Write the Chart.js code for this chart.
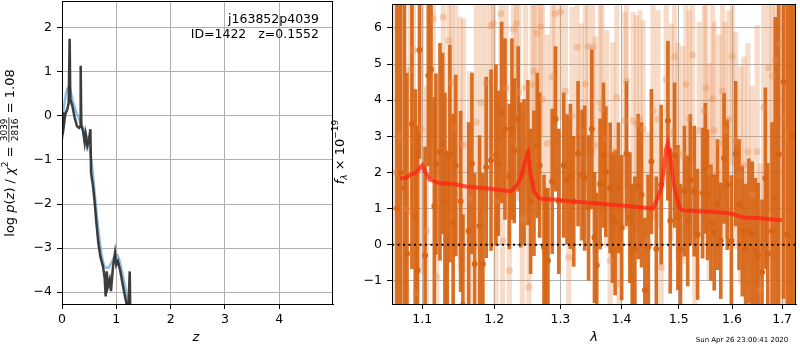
<!DOCTYPE html>
<html><head><meta charset="utf-8">
<script src="https://cdn.jsdelivr.net/npm/chart.js@4.4.1/dist/chart.umd.min.js"></script>
<style>
body{margin:0;background:#fff;width:800px;height:350px;position:relative;overflow:hidden}
#pz{position:absolute;left:0;top:0}
#sp{position:absolute;left:330px;top:0}
</style></head><body>
<canvas id="pz" width="336" height="350"></canvas>
<canvas id="sp" width="470" height="350"></canvas>
<script>
// --- p(z) panel
const zTicks = [0, 1, 2, 3, 4];
const pzTicks = [-4, -3, -2, -1, 0, 1, 2];
const zDark = [0.00, 0.019, 0.037, 0.061, 0.098, 0.123, 0.141, 0.153, 0.19, 0.234, 0.276, 0.313, 0.338, 0.344, 0.356, 0.387, 0.418, 0.436, 0.467, 0.498, 0.523, 0.535, 0.571, 0.602, 0.633, 0.669, 0.706, 0.755, 0.786, 0.804, 0.823, 0.847, 0.878, 0.902, 0.939, 0.976, 1.00, 1.03, 1.075, 1.124, 1.185, 1.222, 1.247, 1.259];
const pDark = [-0.53, 0.08, -0.19, 0.04, 0.15, 0.30, 1.75, 0.38, 0.23, -0.04, -0.23, -0.27, -0.23, 1.14, -0.23, -0.34, -0.61, -0.42, -0.68, -0.53, -0.30, -1.29, -1.59, -1.97, -2.43, -2.88, -3.19, -3.42, -3.68, -4.10, -3.53, -3.87, -3.72, -3.98, -3.42, -3.11, -3.38, -3.30, -3.53, -3.87, -4.25, -4.40, -3.53, -4.56];
const zBlue = [0.006, 0.031, 0.067, 0.104, 0.141, 0.178, 0.234, 0.326, 0.418, 0.479, 0.541, 0.602, 0.663, 0.725, 0.786, 0.847, 0.908, 0.970, 1.013, 1.062, 1.124, 1.185, 1.247];
const pBlue = [-0.35, 0.15, 0.45, 0.64, 0.64, 0.45, 0.19, -0.11, -0.34, -0.57, -0.99, -1.75, -2.51, -3.11, -3.42, -3.45, -3.34, -3.19, -3.15, -3.30, -3.64, -4.02, -4.44];

// --- spectrum panel
const lamTicks = [1.1, 1.2, 1.3, 1.4, 1.5, 1.6, 1.7];
const fluxTicks = [-1, 0, 1, 2, 3, 4, 5, 6];
const lamD = [1.0667, 1.0710, 1.0763, 1.0798, 1.0863, 1.0907, 1.0937, 1.0963, 1.1037, 1.1080, 1.1116, 1.1161, 1.1183, 1.1238, 1.1274, 1.1305, 1.1337, 1.1373, 1.1418, 1.1454, 1.1522, 1.1554, 1.1634, 1.1681, 1.1719, 1.1789, 1.1836, 1.1884, 1.1954, 1.2025, 1.2059, 1.2108, 1.2157, 1.2221, 1.2260, 1.2294, 1.2353, 1.2392, 1.2441, 1.2499, 1.2540, 1.2591, 1.2642, 1.2678, 1.2745, 1.2770, 1.2806, 1.2872, 1.2924, 1.2975, 1.3053, 1.3106, 1.3159, 1.3212, 1.3281, 1.3345, 1.3388, 1.3451, 1.3504, 1.3547, 1.3585, 1.3640, 1.3696, 1.3735, 1.3807, 1.3846, 1.3890, 1.3946, 1.4001, 1.4083, 1.4140, 1.4180, 1.4226, 1.4284, 1.4341, 1.4399, 1.4456, 1.4514, 1.4600, 1.4686, 1.4806, 1.4848, 1.4926, 1.4986, 1.5034, 1.5105, 1.5165, 1.5213, 1.5285, 1.5347, 1.5441, 1.5491, 1.5534, 1.5597, 1.5659, 1.5722, 1.5784, 1.5847, 1.5909, 1.5987, 1.6071, 1.6136, 1.6201, 1.6266, 1.6331, 1.6396, 1.6461, 1.6513, 1.6592, 1.6659, 1.6707, 1.6794, 1.6861, 1.6929, 1.7030, 1.7111, 1.7180, 1.7230];
const fluxD = [1.0, 2.0, 1.57, -0.25, 3.34, 0.79, -0.71, 5.39, -0.3, 4.68, 4.84, 1.07, 2.23, 2.57, 2.8, 1.2, 0.1, 2.52, 0.61, 2.19, 1.2, -1.67, 0.38, 2.25, -0.53, 0.52, -0.53, 2.14, 2.34, 2.48, 2.25, 3.66, 3.2, 1.89, 3.2, 2.6, 3.48, 1.93, 2.02, 2.55, 1.2, 1.7, 2.75, 2.2, -0.07, -0.25, -0.44, 1.75, 3.48, 1.2, 2.2, 1.8, 1.89, 1.2, 2.52, 1.93, 1.84, 1.02, 3.2, 0.2, -0.57, 1.68, 2.48, 2.02, 1.57, 0.75, 0.61, 1.57, 0.47, 2.52, 0.75, -0.12, -0.12, 1.61, 1.38, -1.26, -0.07, 2.3, -0.12, 1.66, 3.43, 0.66, 2.48, 0.75, -0.12, 1.48, 0.66, 1.8, 1.48, 0.29, 1.43, 2.11, 1.38, 0.61, 0.34, 1.11, 0.11, 2.39, 1.66, 0.11, 2.52, 1.11, 0.38, -0.12, 0.38, 0.29, -0.16, -0.3, -0.76, 1.84, -0.25, 0.38, 1.29, 2.5, 4.51, 0.29, 3.0, 3.0];
const errD = [8, 8, 6, 5, 4, 3.5, 4, 3, 3, 2.5, 3, 3, 2.5, 3, 2.5, 3, 2.5, 3, 3, 2.5, 2.5, 2.5, 3, 2.5, 2.5, 2.5, 2.5, 2.5, 2.5, 2.5, 2, 2.5, 2.5, 2, 2.5, 2, 2, 2, 2, 2, 2, 2, 2, 2, 2, 1.8, 2, 2, 2, 2, 2, 1.8, 2, 1.8, 2, 1.8, 2, 2, 2.2, 1.8, 2, 1.8, 2, 1.8, 1.8, 1.8, 2, 1.8, 2, 2, 1.8, 1.8, 2, 2, 2, 2, 2, 2, 2, 2.2, 2.2, 2, 2, 2, 1.8, 1.8, 1.8, 1.8, 1.8, 1.8, 1.8, 1.8, 1.8, 1.6, 1.6, 1.8, 1.6, 1.8, 1.8, 1.8, 2, 1.8, 1.8, 1.8, 2, 2, 2, 2, 2, 2.5, 2.5, 3, 5, 6, 6, 7, 8, 8];
const lamL = [1.0650, 1.0700, 1.0760, 1.0839, 1.0883, 1.0917, 1.0991, 1.1057, 1.1147, 1.1192, 1.1283, 1.1360, 1.1396, 1.1454, 1.1517, 1.1563, 1.1648, 1.1742, 1.1812, 1.1884, 1.1954, 1.1988, 1.2025, 1.2098, 1.2123, 1.2172, 1.2221, 1.2284, 1.2328, 1.2367, 1.2416, 1.2465, 1.2514, 1.2565, 1.2591, 1.2642, 1.2693, 1.2719, 1.2796, 1.2872, 1.2913, 1.3001, 1.3079, 1.3132, 1.3185, 1.3265, 1.3334, 1.3398, 1.3440, 1.3520, 1.3557, 1.3640, 1.3668, 1.3752, 1.3807, 1.3852, 1.3918, 1.3957, 1.4057, 1.4083, 1.4198, 1.4255, 1.4313, 1.4370, 1.4456, 1.4542, 1.4629, 1.4686, 1.4776, 1.4866, 1.4926, 1.4986, 1.5075, 1.5135, 1.5195, 1.5255, 1.5297, 1.5378, 1.5472, 1.5503, 1.5566, 1.5628, 1.5659, 1.5753, 1.5815, 1.5865, 1.5941, 1.6006, 1.6071, 1.6168, 1.6232, 1.6310, 1.6396, 1.6494, 1.6558, 1.6626, 1.6727, 1.6794, 1.6861, 1.6949, 1.7030, 1.7120];
const fluxL = [2, 3, 1, 4.84, 5.39, -1.35, 3.2, 0.38, 6.26, -0.89, 6.3, 5.65, 4.48, 3.25, 2.8, 2.75, 1.29, 3.39, 3.93, 4.48, 6.05, 6.12, 1.2, 6.39, 0.11, 4.34, -0.71, 5.97, 6.12, 4.21, 0.7, 4.34, -1.17, 4.43, 4.8, 5.85, 6.03, 4.03, 2.8, 4.64, 6.39, 6.44, 4.25, -0.35, 3.57, 5.46, 3.11, 4.45, 5.48, 5.46, 2.75, 3.93, 3.75, 2.93, -0.44, 2.59, 4.07, -1.07, 3.43, 4.53, 3.43, 3.34, 3.48, 3.2, 0.11, 3.71, 3.48, -0.62, 4.57, 3.11, 5.21, 2.57, 2.48, 4.43, 3.48, 5.25, 0.11, 3.16, 3.71, 4.34, 2.02, 4.03, 3.16, 2.8, 4.25, 3.16, 3.48, 5.21, 2.89, 1.93, 2.2, 2.57, 1.38, 2.57, -1.26, 3.8, 4.89, 4.66, 5.12, 5.57, 3.48, 3];
const errL = [8, 8, 7, 4, 4, 4, 4, 4, 3.5, 3.5, 3.5, 3.5, 3.5, 3.5, 3.5, 3.5, 3.5, 3.5, 3.5, 3.5, 3.5, 3.5, 3, 3.5, 3, 3, 3, 3, 3, 3, 3, 3, 3, 3, 3, 3, 3, 3, 3, 3, 3, 3, 3, 3, 3, 3, 3, 3, 3, 3, 3, 3, 3, 3, 3, 3, 3, 3, 3, 3, 3, 3, 3, 3, 3, 3, 3, 3, 3, 3, 3, 3, 3, 3, 3, 3, 3, 3, 3, 3, 3, 3, 3, 3, 3, 3, 3, 3, 3, 3, 3, 3, 3, 3.5, 3.5, 4, 4, 5, 6, 7, 8, 8];
const lamM = [1.0710, 1.0774, 1.0839, 1.0904, 1.0935, 1.1000, 1.1036, 1.1102, 1.1236, 1.1417, 1.1601, 1.1835, 1.2027, 1.2244, 1.2318, 1.2392, 1.2455, 1.2500, 1.2541, 1.2591, 1.2667, 1.2770, 1.2924, 1.3132, 1.3451, 1.3777, 1.4111, 1.4397, 1.4541, 1.4599, 1.4687, 1.4734, 1.4775, 1.4805, 1.4852, 1.4924, 1.5014, 1.5074, 1.5287, 1.5594, 1.5909, 1.6038, 1.6232, 1.6558, 1.6826, 1.6995];
const fluxM = [1.84, 1.84, 1.93, 1.98, 2.05, 2.20, 2.02, 1.80, 1.70, 1.68, 1.61, 1.57, 1.53, 1.48, 1.61, 1.84, 2.30, 2.52, 1.93, 1.48, 1.29, 1.25, 1.25, 1.20, 1.16, 1.11, 1.07, 1.02, 1.00, 1.20, 1.57, 2.11, 2.66, 2.80, 2.39, 1.57, 1.02, 0.95, 0.93, 0.91, 0.88, 0.84, 0.75, 0.73, 0.70, 0.68];
const zeroLevel = 0;

Chart.defaults.font.family = "'DejaVu Sans', sans-serif";
Chart.defaults.font.size = 12.5;
Chart.defaults.color = "#000";

const minus = (s) => String(s).replace("-", "\u2212");

// cadre noir autour de la zone du graphique
const framePlugin = {
  id: "frame",
  afterDraw: (chart) => {
    const { ctx, chartArea: a } = chart;
    ctx.save();
    ctx.strokeStyle = "#000";
    ctx.lineWidth = 1;
    ctx.strokeRect(a.left + 0.5, a.top + 0.5, a.right - a.left - 1, a.bottom - a.top);
    ctx.restore();
  },
};

// texte avec morceaux en italique / exposants / fraction
function drawRich(ctx, cx, cy, parts, rotate) {
  ctx.save();
  ctx.translate(cx, cy);
  if (rotate) ctx.rotate(-Math.PI / 2);
  ctx.textBaseline = "alphabetic";
  let total = 0;
  parts.forEach((p) => {
    ctx.font = p.font;
    if (p.frac) {
      p.w = Math.max(ctx.measureText(p.frac[0]).width, ctx.measureText(p.frac[1]).width) + 2;
    } else {
      p.w = ctx.measureText(p.t).width;
    }
    total += p.w;
  });
  let x = -total / 2;
  const base = 4.5;
  parts.forEach((p) => {
    ctx.font = p.font;
    ctx.fillStyle = "#000";
    if (p.frac) {
      ctx.textAlign = "center";
      ctx.fillText(p.frac[0], x + p.w / 2, base - 6.5);
      ctx.fillText(p.frac[1], x + p.w / 2, base + 4.5);
      ctx.fillRect(x, base - 5, p.w, 0.8);
      ctx.textAlign = "left";
    } else {
      ctx.textAlign = "left";
      ctx.fillText(p.t, x, base + (p.dy || 0));
    }
    x += p.w;
  });
  ctx.restore();
}

const N = "13px 'DejaVu Sans'";
const I = "italic 13px 'DejaVu Sans'";
const S = "9px 'DejaVu Sans'";

const pzLabels = {
  id: "pzLabels",
  afterDraw: (chart) => {
    const ctx = chart.ctx;
    drawRich(ctx, 9, 153, [
      { t: "log ", font: N }, { t: "p", font: I }, { t: "(", font: N }, { t: "z", font: I },
      { t: ") / ", font: N }, { t: "\u03c7", font: I }, { t: "2", font: S, dy: -6 },
      { t: " = ", font: N }, { frac: ["3039", "2816"], font: S }, { t: " = 1.08", font: N },
    ], true);
    drawRich(ctx, 196, 336, [{ t: "z", font: I }], false);
    ctx.save();
    ctx.font = "12.5px 'DejaVu Sans'";
    ctx.textAlign = "right";
    ctx.textBaseline = "middle";
    ctx.fillText("j163852p4039", 319, 20);
    ctx.fillText("ID=1422   z=0.1552", 319, 35);
    ctx.restore();
  },
};

const spLabels = {
  id: "spLabels",
  afterDraw: (chart) => {
    const ctx = chart.ctx;
    drawRich(ctx, 9, 152, [
      { t: "f", font: I }, { t: "\u03bb", font: "italic 9px 'DejaVu Sans'", dy: 3 },
      { t: " \u00d7 10", font: N }, { t: "\u221219", font: S, dy: -6 },
    ], true);
    drawRich(ctx, 264, 336, [{ t: "\u03bb", font: I }], false);
    ctx.save();
    ctx.font = "7px 'DejaVu Sans'";
    ctx.textAlign = "center";
    ctx.textBaseline = "middle";
    ctx.fillText("Sun Apr 26 23:00:41 2020", 412, 340);
    ctx.restore();
  },
};

const gridOpts = { color: "#b0b0b0", lineWidth: 1, tickColor: "#000", tickLength: 5 };

// tailles d'axes fixes, sans marge automatique pour les étiquettes
const fixX = (s) => { s.height = 46; s.paddingLeft = 0; s.paddingRight = 0; };
const fixY = (s) => { s.width = 62; s.paddingTop = 0; s.paddingBottom = 0; };

// Graphique p(z)
new Chart(document.getElementById("pz"), {
  type: "scatter",
  data: {
    datasets: [
      {
        data: zDark.map((z, i) => ({ x: z, y: pDark[i] })),
        showLine: true, borderColor: "rgba(45,45,45,0.92)", borderWidth: 2.5,
        pointRadius: 0, tension: 0,
      },
      {
        data: zBlue.map((z, i) => ({ x: z, y: pBlue[i] })),
        showLine: true, borderColor: "rgba(110,170,215,0.75)", borderWidth: 2.5,
        pointRadius: 0, tension: 0.3,
      },
    ],
  },
  options: {
    responsive: false,
    animation: false,
    layout: { padding: { top: 1, right: 3, left: 0, bottom: 0 } },
    plugins: { legend: { display: false }, tooltip: { enabled: false } },
    scales: {
      x: {
        type: "linear", min: 0, max: 4.99,
        afterFit: fixX,
        afterBuildTicks: (s) => { s.ticks = zTicks.map((v) => ({ value: v })); },
        grid: gridOpts,
        border: { color: "#000" },
        ticks: { padding: 3, autoSkip: false, maxRotation: 0, callback: (v) => minus(v) },
      },
      y: {
        type: "linear", min: -4.27, max: 2.61,
        afterFit: fixY,
        afterBuildTicks: (s) => { s.ticks = pzTicks.map((v) => ({ value: v })); },
        grid: gridOpts,
        border: { color: "#000" },
        ticks: { padding: 5, autoSkip: false, callback: (v) => minus(v) },
      },
    },
  },
  plugins: [framePlugin, pzLabels],
});

// Graphique du spectre
new Chart(document.getElementById("sp"), {
  type: "scatter",
  data: {
    datasets: [
      {
        type: "line",
        data: [{ x: 1.0604, y: zeroLevel }, { x: 1.7288, y: zeroLevel }],
        borderColor: "#000", borderWidth: 2, borderDash: [2, 3.5], pointRadius: 0,
      },
      {
        type: "line",
        data: lamM.map((l, i) => ({ x: l, y: fluxM[i] })),
        borderColor: "rgba(255,35,20,0.75)", borderWidth: 4, pointRadius: 0, tension: 0,
      },
      {
        data: lamD.map((l, i) => ({ x: l, y: fluxD[i] })),
        backgroundColor: "rgba(215,100,20,0.95)", borderWidth: 0, pointRadius: 3,
      },
      {
        data: lamL.map((l, i) => ({ x: l, y: fluxL[i] })),
        backgroundColor: "rgba(230,140,80,0.35)", borderWidth: 0, pointRadius: 3.5,
      },
      {
        type: "bar", grouped: false, barThickness: 3,
        data: lamD.map((l, i) => ({ x: l, y: [fluxD[i] - errD[i], fluxD[i] + errD[i]] })),
        backgroundColor: "rgba(215,100,20,0.92)", borderWidth: 0,
      },
      {
        type: "bar", grouped: false, barThickness: 4.5,
        data: lamL.map((l, i) => ({ x: l, y: [fluxL[i] - errL[i], fluxL[i] + errL[i]] })),
        backgroundColor: "rgba(230,140,80,0.3)", borderWidth: 0,
      },
    ],
  },
  options: {
    responsive: false,
    animation: false,
    layout: { padding: { top: 1, right: 1, left: 0, bottom: 0 } },
    plugins: { legend: { display: false }, tooltip: { enabled: false } },
    scales: {
      x: {
        type: "logarithmic", min: 1.0604, max: 1.7288, offset: false,
        afterFit: fixX,
        afterBuildTicks: (s) => { s.ticks = lamTicks.map((v) => ({ value: v })); },
        grid: { ...gridOpts, offset: false },
        border: { color: "#000" },
        ticks: { padding: 3, autoSkip: false, maxRotation: 0, callback: (v) => v.toFixed(1) },
      },
      y: {
        type: "linear", min: -1.64, max: 6.66,
        afterFit: fixY,
        afterBuildTicks: (s) => { s.ticks = fluxTicks.map((v) => ({ value: v })); },
        grid: gridOpts,
        border: { color: "#000" },
        ticks: { padding: 5, autoSkip: false, callback: (v) => minus(v) },
      },
    },
  },
  plugins: [framePlugin, spLabels],
});
</script>
</body></html>
